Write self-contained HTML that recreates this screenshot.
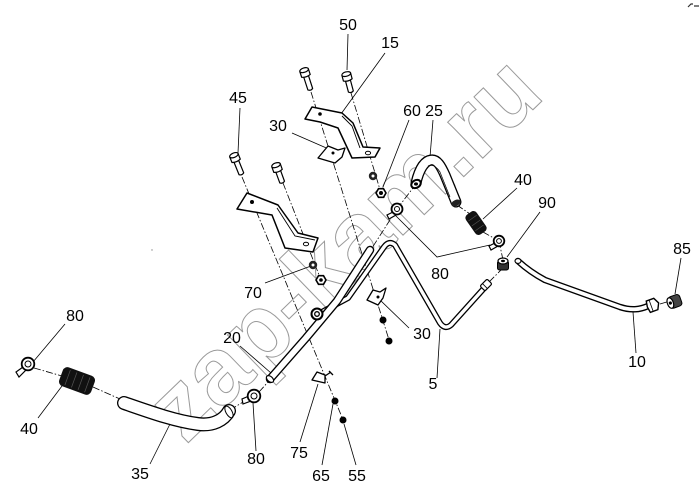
<!DOCTYPE html>
<html><head><meta charset="utf-8"><style>
html,body{margin:0;padding:0;background:#fff;}
svg{display:block;}
text{font-family:"Liberation Sans",Arial,sans-serif;font-size:16px;fill:#000;}
</style></head><body>
<svg width="700" height="501" viewBox="0 0 700 501" xmlns="http://www.w3.org/2000/svg">
<rect width="700" height="501" fill="#fff"/>
<!-- watermark -->
<text x="0" y="0" text-anchor="middle" transform="translate(366,271) rotate(-44)" style="font-size:95px;font-weight:bold;fill:none;stroke:#9a9a9a;stroke-width:1">zap-kam.ru</text>

<!-- corner mark -->
<path d="M688,7 L691,4 L693,4 M694,6 L699,6" stroke="#333" stroke-width="1.2" fill="none"/>
<circle cx="152" cy="250" r="0.7" fill="#888"/>

<!-- dash-dot centre lines -->
<g stroke="#000" stroke-width="0.8" fill="none" stroke-dasharray="7 2 1.5 2">
<line x1="311" y1="92" x2="390" y2="343"/>
<line x1="351" y1="93" x2="381" y2="193"/>
<line x1="242" y1="177" x2="344" y2="422"/>
<line x1="283" y1="183" x2="321" y2="280"/>
<line x1="397" y1="209" x2="416" y2="184"/>
<line x1="397" y1="209" x2="372" y2="248"/>
<line x1="457" y1="205" x2="470" y2="214"/>
<line x1="483" y1="232" x2="499" y2="241"/>
<line x1="499" y1="241" x2="503" y2="260"/>
<line x1="503" y1="268" x2="489" y2="282"/>
<line x1="660" y1="304" x2="670" y2="301"/>
<line x1="34" y1="368" x2="62" y2="376"/>
<line x1="93" y1="387" x2="120" y2="399"/>
<line x1="230" y1="410" x2="248" y2="399"/>
<line x1="259" y1="392" x2="268" y2="382"/>
</g>

<!-- leader lines -->
<g stroke="#000" stroke-width="0.8" fill="none">
<line x1="348" y1="34" x2="347" y2="70"/>
<line x1="385" y1="53" x2="341" y2="114"/>
<line x1="240" y1="108" x2="238" y2="153"/>
<line x1="292" y1="133" x2="331" y2="150"/>
<line x1="409" y1="120" x2="383" y2="187"/>
<line x1="433" y1="120" x2="430" y2="157"/>
<line x1="517" y1="188" x2="483" y2="219"/>
<line x1="540" y1="212" x2="507" y2="257"/>
<line x1="681" y1="258" x2="675" y2="294"/>
<polyline points="393,213 437,257 490,245"/>
<line x1="265" y1="283" x2="311" y2="266"/>
<line x1="409" y1="328" x2="380" y2="300"/>
<line x1="240" y1="346" x2="271" y2="373"/>
<line x1="437" y1="378" x2="440" y2="329"/>
<line x1="636" y1="353" x2="633" y2="312"/>
<line x1="65" y1="324" x2="33" y2="362"/>
<line x1="38" y1="418" x2="62" y2="386"/>
<line x1="150" y1="464" x2="170" y2="424"/>
<line x1="256" y1="451" x2="253" y2="403"/>
<line x1="300" y1="442" x2="318" y2="384"/>
<line x1="322" y1="465" x2="333" y2="404"/>
<line x1="356" y1="465" x2="344" y2="424"/>
</g>

<!-- brackets -->
<g stroke="#000" stroke-width="1.5" fill="#fff" stroke-linejoin="round">
<polygon points="305,119 312,107 342,113 353,123 363,147 380,148 375,157 352,158 338,128 320,122"/>
<polygon points="237,209 247,193 278,205 298,233 318,238 313,252 285,248 272,215"/>
</g>
<g stroke="#000" stroke-width="0.9" fill="none">
<path d="M342,116 L352,126 L360,148"/>
<path d="M277,208 L295,236 L315,240"/>
</g>
<circle cx="320" cy="114" r="1.8" fill="#000"/>
<ellipse cx="368" cy="153" rx="2.6" ry="1.8" fill="#fff" stroke="#000" stroke-width="1"/>
<circle cx="252" cy="202" r="2" fill="#000"/>
<ellipse cx="306" cy="244" rx="2.6" ry="1.8" fill="#fff" stroke="#000" stroke-width="1"/>

<!-- clips 30 / 75 -->
<g stroke="#000" stroke-width="1.3" fill="#fff" stroke-linejoin="round">
<polygon points="318,158 328,146 338,150 345,148 342,157 335,163"/>
<polygon points="367,300 373,290 380,292 386,288 383,298 378,305"/>
<polygon points="312,380 317,372 325,375 325,383"/>
<path d="M325,376 L331,372 M329,371 L333,375"/>
</g>
<circle cx="333" cy="153" r="1.5" fill="#000"/>
<circle cx="378" cy="297" r="1.5" fill="#000"/>

<!-- bolts -->
<g stroke="#000" stroke-width="1.2" fill="#fff">
<g transform="translate(305,73) rotate(-18)"><path d="M-2.5,3 L-2.5,17 Q0,19 2.5,17 L2.5,3"/><path d="M-4.5,-3 L-4.5,3 Q0,5 4.5,3 L4.5,-3"/><ellipse cx="0" cy="-3" rx="4.5" ry="2.2"/></g>
<g transform="translate(347,77) rotate(-15)"><path d="M-2.5,3 L-2.5,15 Q0,17 2.5,15 L2.5,3"/><path d="M-4.5,-3 L-4.5,3 Q0,5 4.5,3 L4.5,-3"/><ellipse cx="0" cy="-3" rx="4.5" ry="2.2"/></g>
<g transform="translate(235,158) rotate(-22)"><path d="M-2.5,3 L-2.5,17 Q0,19 2.5,17 L2.5,3"/><path d="M-4.5,-3 L-4.5,3 Q0,5 4.5,3 L4.5,-3"/><ellipse cx="0" cy="-3" rx="4.5" ry="2.2"/></g>
<g transform="translate(277,168) rotate(-20)"><path d="M-2.5,3 L-2.5,15 Q0,17 2.5,15 L2.5,3"/><path d="M-4.5,-3 L-4.5,3 Q0,5 4.5,3 L4.5,-3"/><ellipse cx="0" cy="-3" rx="4.5" ry="2.2"/></g>
</g>

<!-- nuts -->
<circle cx="373" cy="176" r="4.2" fill="#222"/><circle cx="373" cy="176" r="1.5" fill="#fff"/>
<polygon points="386,193 383.5,197.3 378.5,197.3 376,193 378.5,188.7 383.5,188.7" fill="#fff" stroke="#000" stroke-width="1.6"/><circle cx="381" cy="193" r="2" fill="#000"/>
<circle cx="313" cy="265" r="4.2" fill="#222"/><circle cx="313" cy="265" r="1.5" fill="#fff"/>
<polygon points="326,280 323.5,284.3 318.5,284.3 316,280 318.5,275.7 323.5,275.7" fill="#fff" stroke="#000" stroke-width="1.6"/><circle cx="321" cy="280" r="1.8" fill="#000"/>
<circle cx="383" cy="320" r="3.5" fill="#000"/>
<circle cx="389" cy="341" r="3.5" fill="#000"/>
<circle cx="335" cy="401" r="3.5" fill="#000"/>
<circle cx="343" cy="420" r="3.5" fill="#000"/>

<!-- tubes -->
<g fill="none" stroke-linecap="round" stroke-linejoin="round">
<path d="M320,313 L348,298 L384,247 Q389,240 395,245 L440,323 Q445,330 451,325 L487,285" stroke="#000" stroke-width="6"/>
<path d="M320,313 L348,298 L384,247 Q389,240 395,245 L440,323 Q445,330 451,325 L487,285" stroke="#fff" stroke-width="3.4"/>
<path d="M270,379 L306,338 L337,301 L370,250" stroke="#000" stroke-width="8.5"/>
<path d="M270,379 L306,338 L337,301 L370,250" stroke="#fff" stroke-width="5.8"/>
<path d="M518,261 Q530,272 545,280 L620,307 Q635,312 648,306" stroke="#000" stroke-width="6.5"/>
<path d="M518,261 Q530,272 545,280 L620,307 Q635,312 648,306" stroke="#fff" stroke-width="3.8"/>
<path d="M124,403 C150,412 175,421 198,424 C213,426 224,420 229,411" stroke="#000" stroke-width="14"/>
<path d="M124,403 C150,412 175,421 198,424 C213,426 224,420 229,411" stroke="#fff" stroke-width="11.4"/>
<path d="M416,183 C419,170 424,161 431,160 C437,159 441,166 445,175 L456,202" stroke="#000" stroke-width="11"/>
<path d="M416,183 C419,170 424,161 431,160 C437,159 441,166 445,175 L456,202" stroke="#fff" stroke-width="8.4"/>
</g>
<ellipse cx="270" cy="379" rx="4.2" ry="2.6" transform="rotate(41 270 379)" fill="#fff" stroke="#000" stroke-width="1.2"/>
<ellipse cx="229" cy="412" rx="6.5" ry="3" transform="rotate(60 229 412)" fill="none" stroke="#000" stroke-width="1"/>
<ellipse cx="416" cy="184" rx="5" ry="3.8" transform="rotate(-30 416 184)" fill="#fff" stroke="#000" stroke-width="2"/>
<ellipse cx="416" cy="184" rx="2" ry="1.6" fill="#000"/>
<ellipse cx="456" cy="203" rx="5" ry="3" transform="rotate(-25 456 203)" fill="#222"/>
<path d="M428,166 Q434,163 440,172 L450,197" stroke="#000" stroke-width="0.7" fill="none"/>
<ellipse cx="518" cy="261" rx="3" ry="2.4" fill="#fff" stroke="#000" stroke-width="1.1"/>

<!-- tube fittings -->
<circle cx="317" cy="314" r="5.5" fill="#fff" stroke="#000" stroke-width="2"/>
<circle cx="317" cy="314" r="2.3" fill="#fff" stroke="#000" stroke-width="1.3"/>
<g transform="translate(486,285) rotate(-45)"><rect x="-5" y="-3.5" width="10" height="7" rx="1.5" fill="#fff" stroke="#000" stroke-width="1.2"/><line x1="-1.5" y1="-3.5" x2="-1.5" y2="3.5" stroke="#000" stroke-width="0.8"/></g>
<g transform="translate(503,265)"><rect x="-5.5" y="-4" width="11" height="9" rx="2" fill="#333" stroke="#000"/><ellipse cx="0" cy="-4" rx="5" ry="3" fill="#fff" stroke="#000" stroke-width="1.2"/><ellipse cx="0" cy="-4" rx="2" ry="1.2" fill="#000"/></g>
<g transform="translate(653,305) rotate(-20)"><polygon points="-5,-6 3,-6 6,0 3,6 -5,6 -6,0" fill="#fff" stroke="#000" stroke-width="1.4"/><line x1="-2" y1="-6" x2="-2" y2="6" stroke="#000" stroke-width="0.8"/></g>
<g transform="translate(676,301) rotate(-20)"><rect x="-7" y="-6" width="12" height="12" rx="3" fill="#444" stroke="#000"/><ellipse cx="-6" cy="0" rx="3" ry="5.5" fill="#fff" stroke="#000" stroke-width="1.2"/><circle cx="-6" cy="0" r="1.6" fill="#000"/></g>

<!-- springs 40 -->
<g transform="translate(77,381) rotate(20)"><rect x="-17" y="-10" width="34" height="20" rx="5" fill="#111"/><path d="M-10,-8 L-10,8 M-3,-8 L-3,8 M4,-8 L4,8 M11,-8 L11,8" stroke="#555" stroke-width="0.7"/></g>
<g transform="translate(476,223) rotate(55)"><rect x="-12" y="-6.5" width="24" height="13" rx="4" fill="#111"/><path d="M-6,-5 L-6,5 M0,-5 L0,5 M6,-5 L6,5" stroke="#555" stroke-width="0.6"/></g>

<!-- clamps 80 -->
<g stroke="#000" fill="#fff">
<g transform="translate(28,364)"><path d="M-5,3 L-12,8 L-9,13 L-2,6 Z" stroke-width="1.2"/><circle r="6.3" stroke-width="1.8"/><circle r="3" stroke-width="1"/></g>
<g transform="translate(254,396)"><path d="M-5,0 L-12,3 L-11,8 L-3,5 Z" stroke-width="1.2"/><circle r="6.3" stroke-width="1.8"/><circle r="3" stroke-width="1"/></g>
<g transform="translate(397,209)"><path d="M-4,3 L-10,6 L-8,10 L-1,6 Z" stroke-width="1.2"/><circle r="5.5" stroke-width="1.8"/><circle r="2.5" stroke-width="1"/></g>
<g transform="translate(499,241)"><path d="M-4,2 L-10,5 L-8,9 L-1,5 Z" stroke-width="1.2"/><circle r="5.3" stroke-width="1.8"/><circle r="2.4" stroke-width="1"/></g>
</g>

<!-- labels -->
<g text-anchor="middle">
<text x="348" y="30">50</text>
<text x="390" y="48">15</text>
<text x="238" y="103">45</text>
<text x="278" y="131">30</text>
<text x="412" y="116">60</text>
<text x="434" y="116">25</text>
<text x="523" y="185">40</text>
<text x="547" y="208">90</text>
<text x="682" y="254">85</text>
<text x="440" y="279">80</text>
<text x="253" y="298">70</text>
<text x="422" y="339">30</text>
<text x="232" y="343">20</text>
<text x="433" y="389">5</text>
<text x="637" y="367">10</text>
<text x="75" y="321">80</text>
<text x="29" y="434">40</text>
<text x="140" y="479">35</text>
<text x="256" y="464">80</text>
<text x="299" y="458">75</text>
<text x="321" y="481">65</text>
<text x="357" y="481">55</text>
</g>
</svg>
</body></html>
